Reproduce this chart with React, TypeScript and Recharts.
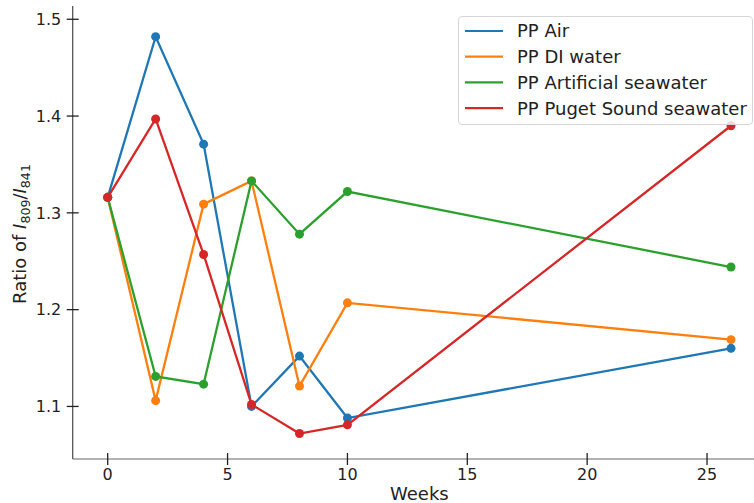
import React from 'react';
import { LineChart, Line, XAxis, YAxis, Legend } from 'recharts';

// Sampling weeks and measured I809/I841 ratios per exposure condition
const weeks = [0, 2, 4, 6, 8, 10, 26];
const ppAir = [1.316, 1.482, 1.371, 1.100, 1.152, 1.088, 1.160];
const ppDiWater = [1.316, 1.106, 1.309, 1.333, 1.121, 1.207, 1.169];
const ppArtificialSeawater = [1.316, 1.131, 1.123, 1.333, 1.278, 1.322, 1.244];
const ppPugetSoundSeawater = [1.316, 1.397, 1.257, 1.102, 1.072, 1.081, 1.390];

const seriesKeys = ['air', 'di', 'artificial', 'puget'];
const seriesNames = ['PP Air', 'PP DI water', 'PP Artificial seawater', 'PP Puget Sound seawater'];
const seriesColors = ['#1f77b4', '#ff7f0e', '#2ca02c', '#d62728'];

const xTicks = [0, 5, 10, 15, 20, 25];
const yTicks = [1.1, 1.2, 1.3, 1.4, 1.5];
const xDomain = [-1.46, 27.46];
const yDomain = [1.0457, 1.5137];

const data = weeks.map((w, i) => ({
  week: w,
  air: ppAir[i],
  di: ppDiWater[i],
  artificial: ppArtificialSeawater[i],
  puget: ppPugetSoundSeawater[i],
}));

const TEXT = '#222';
const FONT = "'DejaVu Sans', sans-serif";

const XTick = (props: any) => {
  const { x, y, payload } = props;
  return (
    <g>
      <line x1={x} x2={x} y1={y - 6} y2={y + 6} stroke="#222" strokeWidth={1.3} />
      <text x={x} y={y + 20.5} textAnchor="middle" fontSize={16} fill={TEXT} fontFamily={FONT}>
        {payload.value}
      </text>
    </g>
  );
};

const YTick = (props: any) => {
  const { x, y, payload } = props;
  return (
    <g>
      <line x1={x - 6} x2={x + 6} y1={y} y2={y} stroke="#222" strokeWidth={1.3} />
      <text x={x - 11.5} y={y} dy="0.36em" textAnchor="end" fontSize={16} fill={TEXT} fontFamily={FONT}>
        {Number(payload.value).toFixed(1)}
      </text>
    </g>
  );
};

const XLabel = (props: any) => {
  const { viewBox } = props;
  const cx = viewBox.x + viewBox.width / 2;
  return (
    <text x={cx} y={viewBox.y + 41} textAnchor="middle" fontSize={18} fill={TEXT} fontFamily={FONT}>
      Weeks
    </text>
  );
};

const YLabel = () => {
  const cx = 26;
  const cy = 234;
  return (
    <text
      x={cx}
      y={cy}
      transform={`rotate(-90, ${cx}, ${cy})`}
      textAnchor="middle"
      fontSize={18}
      fill={TEXT}
      fontFamily={FONT}
    >
      Ratio of <tspan fontStyle="italic">I</tspan>
      <tspan fontSize={12.6} dy={4}>809</tspan>
      <tspan dy={-4}>/</tspan>
      <tspan fontStyle="italic">I</tspan>
      <tspan fontSize={12.6} dy={4}>841</tspan>
    </text>
  );
};

// Legend rows follow the series order in which the lines are drawn
const LegendBox = () => {
  const rowY = [14, 39.7, 65.4, 91.1];
  return (
    <div
      style={{
        width: 295,
        height: 109,
        boxSizing: 'border-box',
        border: '1px solid #d6d6d6',
        borderRadius: 4,
        background: 'rgba(255,255,255,0.8)',
      }}
    >
      <svg width={293} height={107} style={{ display: 'block' }}>
        {seriesNames.map((name, i) => (
          <g key={name}>
            <line x1={6} x2={44} y1={rowY[i]} y2={rowY[i]} stroke={seriesColors[i]} strokeWidth={2.2} />
            <text x={58} y={rowY[i]} dy="0.36em" fontSize={18} fill={TEXT} fontFamily={FONT}>
              {name}
            </text>
          </g>
        ))}
      </svg>
    </div>
  );
};

export default function App() {
  return (
    <div
      style={{
        position: 'fixed',
        left: 0,
        top: 0,
        width: 754,
        height: 503,
        overflow: 'hidden',
        background: '#fff',
        fontFamily: FONT,
      }}
    >
      <LineChart
        width={800}
        height={520}
        data={data}
        margin={{ top: 6, right: 34, left: 0, bottom: 21 }}
      >
        <XAxis
          xAxisId="top"
          orientation="top"
          dataKey="week"
          type="number"
          domain={xDomain}
          height={0}
          tick={false}
          tickLine={false}
          axisLine={{ stroke: '#b3b3b3', strokeWidth: 1.3 }}
        />
        <XAxis
          dataKey="week"
          type="number"
          domain={xDomain}
          ticks={xTicks}
          height={40}
          tickSize={0}
          tickMargin={0}
          tickLine={false}
          tick={<XTick />}
          axisLine={{ stroke: '#999', strokeWidth: 1.3 }}
          label={<XLabel />}
        />
        <YAxis
          type="number"
          domain={yDomain}
          ticks={yTicks}
          width={72.7}
          tickSize={0}
          tickMargin={0}
          tickLine={false}
          tick={<YTick />}
          axisLine={{ stroke: '#555', strokeWidth: 1.3 }}
          label={<YLabel />}
        />
        <Legend
          layout="vertical"
          align="center"
          verticalAlign="middle"
          content={<LegendBox />}
          wrapperStyle={{ left: 458, top: 16, width: 295, height: 109 }}
        />
        {seriesKeys.map((k, i) => (
          <Line
            key={k}
            dataKey={k}
            name={seriesNames[i]}
            stroke={seriesColors[i]}
            strokeWidth={2.3}
            dot={{ r: 4.5, fill: seriesColors[i], stroke: seriesColors[i], strokeWidth: 0 }}
            activeDot={false}
            isAnimationActive={false}
          />
        ))}
      </LineChart>
    </div>
  );
}
